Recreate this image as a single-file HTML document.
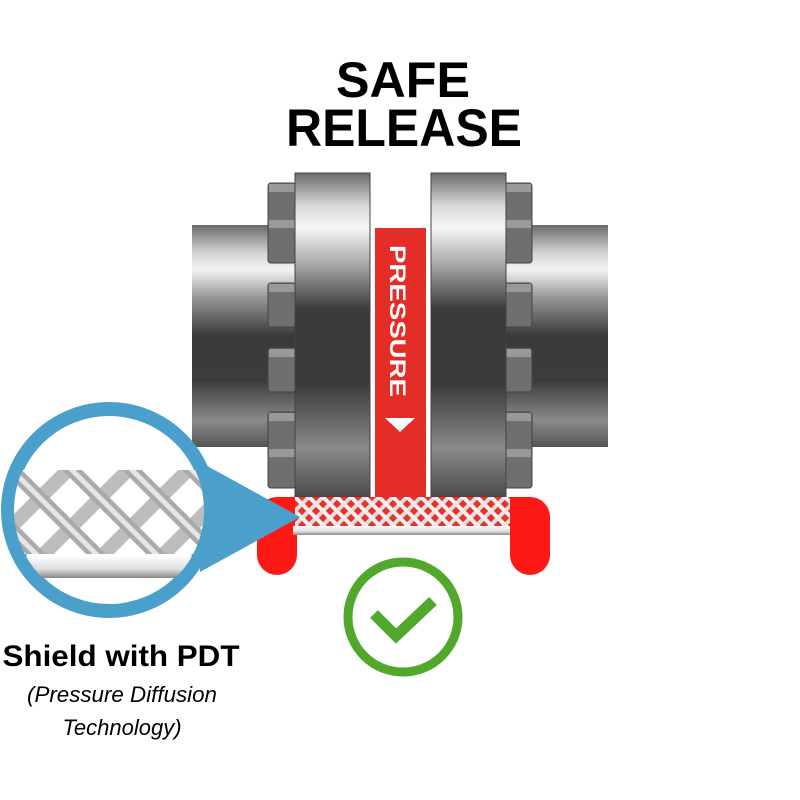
<!DOCTYPE html>
<html><head><meta charset="utf-8"><style>body{margin:0;background:#fff}svg{display:block}</style></head>
<body>
<svg width="800" height="800" viewBox="0 0 800 800" xmlns="http://www.w3.org/2000/svg">
<defs>
<linearGradient id="metal" x1="0" y1="0" x2="0" y2="1">
<stop offset="0" stop-color="#6a6a6a"/><stop offset="0.12" stop-color="#cfcfcf"/><stop offset="0.2" stop-color="#f4f4f4"/><stop offset="0.32" stop-color="#9a9a9a"/><stop offset="0.5" stop-color="#3a3a3a"/><stop offset="0.7" stop-color="#3c3c3c"/><stop offset="0.88" stop-color="#8a8a8a"/><stop offset="1" stop-color="#555"/>
</linearGradient>
<linearGradient id="flange" x1="0" y1="0" x2="0" y2="1">
<stop offset="0" stop-color="#6a6a6a"/><stop offset="0.1" stop-color="#d8d8d8"/><stop offset="0.17" stop-color="#f6f6f6"/><stop offset="0.3" stop-color="#9a9a9a"/><stop offset="0.42" stop-color="#3a3a3a"/><stop offset="0.65" stop-color="#3a3a3a"/><stop offset="0.85" stop-color="#8a8a8a"/><stop offset="1" stop-color="#4a4a4a"/>
</linearGradient>
<linearGradient id="tube" x1="0" y1="0" x2="0" y2="1">
<stop offset="0" stop-color="#fff"/><stop offset="0.6" stop-color="#ddd"/><stop offset="1" stop-color="#888"/>
</linearGradient>
<pattern id="braid" width="14" height="14" patternUnits="userSpaceOnUse" patternTransform="translate(295,497)">
<rect width="14" height="14" fill="#e8322c"/>
<path d="M-3.5 3.5 L3.5 -3.5 M0 14 L14 0 M10.5 17.5 L17.5 10.5" stroke="#ddd" stroke-width="4"/>
<path d="M-3.5 10.5 L3.5 17.5 M0 0 L14 14 M10.5 -3.5 L17.5 3.5" stroke="#eee" stroke-width="4"/>
</pattern>
<pattern id="bigbraid" width="60" height="60" patternUnits="userSpaceOnUse" patternTransform="translate(10,468)">
<rect width="60" height="60" fill="#fff"/>
<path d="M-15 15 L15 -15 M0 60 L60 0 M45 75 L75 45" stroke="#bdbdbd" stroke-width="14"/>
<path d="M-15 45 L15 75 M0 0 L60 60 M45 -15 L75 15" stroke="#aaa" stroke-width="14"/>
<path d="M-15 45 L15 75 M0 0 L60 60 M45 -15 L75 15" stroke="#e6e6e6" stroke-width="5"/>
</pattern>
<clipPath id="inner"><circle cx="109" cy="510" r="95"/></clipPath>
</defs>

<text x="403" y="97" font-family="Liberation Sans, sans-serif" font-weight="bold" font-size="50" text-anchor="middle" textLength="134" lengthAdjust="spacingAndGlyphs">SAFE</text>
<text x="404" y="146" font-family="Liberation Sans, sans-serif" font-weight="bold" font-size="53" text-anchor="middle" textLength="236" lengthAdjust="spacingAndGlyphs">RELEASE</text>

<rect x="192" y="225" width="104" height="222" fill="url(#metal)"/>
<rect x="505" y="225" width="103" height="222" fill="url(#metal)"/>
<g fill="#6f6f6f" stroke="#444" stroke-width="1">
<rect x="268" y="183" width="28" height="80" rx="3"/>
<rect x="268" y="283" width="28" height="44" rx="3"/>
<rect x="268" y="348" width="28" height="44" rx="3"/>
<rect x="268" y="412" width="28" height="76" rx="3"/>
<rect x="504" y="183" width="28" height="80" rx="3"/>
<rect x="504" y="283" width="28" height="44" rx="3"/>
<rect x="504" y="348" width="28" height="44" rx="3"/>
<rect x="504" y="412" width="28" height="76" rx="3"/>
</g>
<g fill="#999"><rect x="269" y="184" width="26" height="8"/><rect x="269" y="220" width="26" height="8"/><rect x="269" y="284" width="26" height="8"/><rect x="269" y="349" width="26" height="8"/><rect x="269" y="413" width="26" height="8"/><rect x="269" y="449" width="26" height="8"/>
<rect x="505" y="184" width="26" height="8"/><rect x="505" y="220" width="26" height="8"/><rect x="505" y="284" width="26" height="8"/><rect x="505" y="349" width="26" height="8"/><rect x="505" y="413" width="26" height="8"/><rect x="505" y="449" width="26" height="8"/></g>
<rect x="295" y="173" width="75" height="324" fill="url(#flange)" stroke="#444"/>
<rect x="431" y="173" width="75" height="324" fill="url(#flange)" stroke="#444"/>
<rect x="375" y="228" width="51" height="270" fill="#e52d27"/>
<text transform="translate(390,245) rotate(90)" font-family="Liberation Sans, sans-serif" font-weight="bold" font-size="22" fill="#fff" textLength="152" lengthAdjust="spacingAndGlyphs">PRESSURE</text>
<polygon points="385,418 415,418 400,432" fill="#fff"/>

<rect x="257" y="497" width="40" height="78" rx="20" fill="#fd1a16"/>
<rect x="510" y="497" width="40" height="78" rx="20" fill="#fd1a16"/>
<rect x="277" y="497" width="20" height="30" fill="#fd1a16"/>
<rect x="510" y="497" width="20" height="30" fill="#fd1a16"/>
<rect x="295" y="497" width="215" height="29" fill="url(#braid)"/>
<rect x="293" y="526" width="217" height="9" fill="url(#tube)"/>

<polygon points="200,462 300,517 200,572" fill="#4aa0ca"/>
<circle cx="109" cy="510" r="101" fill="#fff" stroke="#4aa0ca" stroke-width="14"/>
<g clip-path="url(#inner)">
<rect x="0" y="470" width="220" height="84" fill="url(#bigbraid)"/>
<rect x="0" y="556" width="220" height="22" fill="url(#tube)"/>
</g>

<circle cx="403" cy="617" r="55" fill="none" stroke="#52a82a" stroke-width="9"/>
<polyline points="374,614 396,636 433,601" fill="none" stroke="#52a82a" stroke-width="11"/>

<text x="121" y="666" font-family="Liberation Sans, sans-serif" font-weight="bold" font-size="30" text-anchor="middle" textLength="237" lengthAdjust="spacingAndGlyphs">Shield with PDT</text>
<text x="122" y="702" font-family="Liberation Sans, sans-serif" font-style="italic" font-size="22" text-anchor="middle" textLength="190" lengthAdjust="spacingAndGlyphs">(Pressure Diffusion</text>
<text x="122" y="735" font-family="Liberation Sans, sans-serif" font-style="italic" font-size="22" text-anchor="middle">Technology)</text>
</svg>
</body></html>
